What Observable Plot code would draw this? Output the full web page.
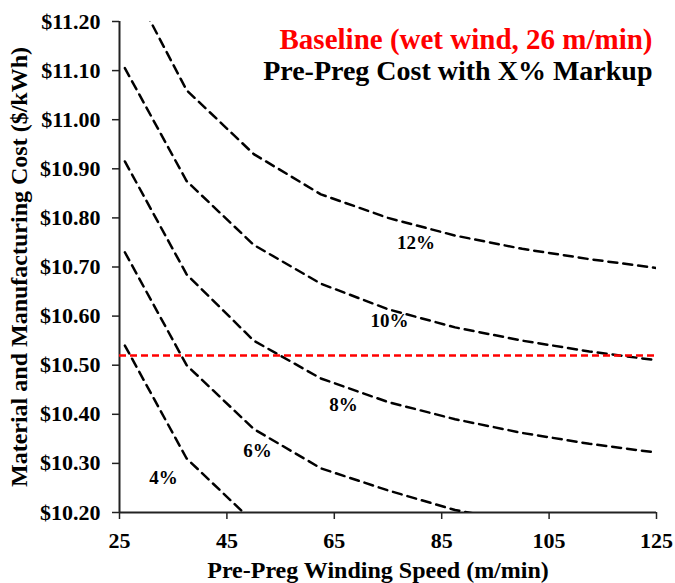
<!DOCTYPE html>
<html>
<head>
<meta charset="utf-8">
<script src="https://cdn.jsdelivr.net/npm/d3@7"></script>
<script src="https://cdn.jsdelivr.net/npm/@observablehq/plot@0.6"></script>
<style>
  html, body { margin: 0; padding: 0; background: #fff; }
  #chart { width: 675px; height: 583px; }
</style>
</head>
<body>
<div id="chart"></div>
<script>
// Winding speeds (m/min)
const speeds = [26, 37.5, 50, 62.5, 75, 87.5, 100, 112.5, 125];
// Cost ($/kWh) for each pre-preg markup
const cost4  = [10.54, 10.31, 10.18, 10.10, 10.05, 10.01, 9.99, 9.96, 9.95];
const cost6  = [10.73, 10.50, 10.37, 10.29, 10.245, 10.205, 10.18, 10.16, 10.14];
const cost8  = [10.915, 10.685, 10.55, 10.473, 10.425, 10.39, 10.362, 10.34, 10.322];
const cost10 = [11.105, 10.875, 10.745, 10.666, 10.614, 10.577, 10.55, 10.528, 10.51];
const cost12 = [11.30, 11.06, 10.93, 10.848, 10.80, 10.764, 10.737, 10.716, 10.698];
const markups = ["4%", "6%", "8%", "10%", "12%"];
const baseline = 10.52;
// Curve label anchor points (speed, cost)
const labelSpeed = [33.2, 50.7, 66.7, 75.3, 80.2];
const labelCost  = [10.27, 10.325, 10.42, 10.59, 10.75];
const xTicks = [25, 45, 65, 85, 105, 125];
const yTicks = [10.2, 10.3, 10.4, 10.5, 10.6, 10.7, 10.8, 10.9, 11.0, 11.1, 11.2];

const series = [cost4, cost6, cost8, cost10, cost12];
const rows = [];
series.forEach((arr, i) => arr.forEach((c, j) => rows.push({markup: markups[i], speed: speeds[j], cost: c})));
const labels = markups.map((m, i) => ({markup: m, speed: labelSpeed[i], cost: labelCost[i]}));

const font = "Liberation Serif, Times New Roman, serif";

const chart = Plot.plot({
  width: 675,
  height: 583,
  marginLeft: 119,
  marginRight: 19,
  marginTop: 21,
  marginBottom: 71,
  style: {fontFamily: font, fontWeight: "bold", fontSize: "22px", color: "#000", background: "#fff"},
  x: {domain: [25, 125]},
  y: {domain: [10.2, 11.2]},
  marks: [
    Plot.axisX({ticks: xTicks, tickSize: 7, tickPadding: 13, label: null, fontSize: 22, stroke: "#222", strokeWidth: 1.5}),
    Plot.axisY({ticks: yTicks, tickSize: 7, tickPadding: 12, label: null, fontSize: 22, stroke: "#222", strokeWidth: 1.5,
      tickFormat: d => "$" + d.toFixed(2)}),
    Plot.ruleX([25], {stroke: "#222", strokeWidth: 2}),
    Plot.ruleY([10.2], {stroke: "#222", strokeWidth: 2}),
    Plot.line(rows, {x: "speed", y: "cost", z: "markup", stroke: "#000", strokeWidth: 2.5,
      strokeDasharray: "9,6", clip: true}),
    Plot.ruleY([baseline], {stroke: "#ff0000", strokeWidth: 2.5, strokeDasharray: "7,4"}),
    Plot.text(labels, {x: "speed", y: "cost", text: "markup", fontSize: 19, fontWeight: "bold", fill: "#000"}),
    Plot.text(["Baseline (wet wind, 26 m/min)"], {frameAnchor: "top-right", dx: -4, dy: 18, fontSize: 29,
      fontWeight: "bold", fill: "#ff0000", textAnchor: "end", lineAnchor: "middle"}),
    Plot.text(["Pre-Preg Cost with X% Markup"], {frameAnchor: "top-right", dx: -4, dy: 50, fontSize: 28,
      fontWeight: "bold", fill: "#000", textAnchor: "end", lineAnchor: "middle"}),
    Plot.text(["Material and Manufacturing Cost ($/kWh)"], {frameAnchor: "left", dx: -100, rotate: -90,
      textAnchor: "middle", fontSize: 24, fontWeight: "bold", fill: "#000", lineAnchor: "middle"}),
    Plot.text(["Pre-Preg Winding Speed (m/min)"], {frameAnchor: "bottom", dx: -10, dy: 58,
      fontSize: 24, fontWeight: "bold", fill: "#000", lineAnchor: "middle"})
  ]
});
document.getElementById("chart").appendChild(chart);
</script>
</body>
</html>
